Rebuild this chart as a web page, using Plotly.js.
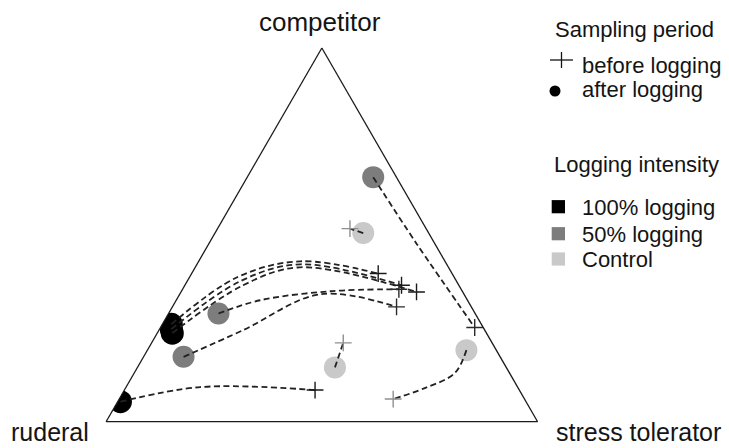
<!DOCTYPE html>
<html>
<head>
<meta charset="utf-8">
<script src="https://cdn.plot.ly/plotly-3.0.1.min.js"></script>
<style>
  html, body { margin: 0; padding: 0; background: #ffffff; }
  #chart { width: 729px; height: 448px; }
</style>
</head>
<body>
<div id="chart"></div>
<script>
// CSR strategy composition of each plot: competitor (C), ruderal (R), stress tolerator (S)
const siteIntensity = ['100%', '100%', '100%', '100%', '50%', '50%', '50%', 'Control', 'Control', 'Control'];

// after logging
const afterCompetitor = [0.0534, 0.2610, 0.2370, 0.2476, 0.2895, 0.1736, 0.6544, 0.5048, 0.1453, 0.1915];
const afterRuderal    = [0.9400, 0.7184, 0.7281, 0.7251, 0.5948, 0.7337, 0.0538, 0.1517, 0.3970, 0.0692];
const afterStress     = [0.0066, 0.0206, 0.0349, 0.0273, 0.1157, 0.0927, 0.2918, 0.3435, 0.4577, 0.7393];

// before logging
const beforeCompetitor = [0.0847, 0.3964, 0.3472, 0.3651, 0.3544, 0.3072, 0.2521, 0.5166, 0.2110, 0.0606];
const beforeRuderal    = [0.4734, 0.1712, 0.1070, 0.1328, 0.1443, 0.1733, 0.0197, 0.1766, 0.3449, 0.3044];
const beforeStress     = [0.4419, 0.4324, 0.5458, 0.5021, 0.5013, 0.5195, 0.7282, 0.3068, 0.4441, 0.6350];

// intermediate points along each trajectory (after -> before)
const pathCompetitor = [[0.0927], [0.3865, 0.4292], [0.3651, 0.4132], [0.3758, 0.4212], [0.3250, 0.3491], [0.2449, 0.3411], [0.4765], [], [], [0.1301, 0.0900]];
const pathRuderal    = [[0.7355], [0.5030, 0.3359], [0.4999, 0.3439], [0.5014, 0.3399], [0.4806, 0.3065], [0.5600, 0.3337], [0.0423], [], [], [0.1269, 0.2164]];
const pathStress     = [[0.1718], [0.1105, 0.2349], [0.1350, 0.2429], [0.1228, 0.2389], [0.1944, 0.3444], [0.1951, 0.3252], [0.4812], [], [], [0.7430, 0.6936]];

const intensityLevels = ['100%', '50%', 'Control'];
const intensityLabels = ['100% logging', '50% logging', 'Control'];
const intensityColors = ['#000000', '#7d7d7d', '#c9c9c9'];
const crossColors     = ['#1a1a1a', '#2a2a2a', '#8f8f8f'];

const W = 729, H = 448;
const px = x => x / W;
const py = y => 1 - y / H;
const FONT = 'Liberation Sans, Arial, Helvetica, sans-serif';

const traces = [];

// after-logging circles, one trace per intensity level
intensityLevels.forEach((lvl, k) => {
  const idx = siteIntensity.map((s, i) => s === lvl ? i : -1).filter(i => i >= 0);
  traces.push({
    type: 'scatterternary', mode: 'markers', hoverinfo: 'skip',
    a: idx.map(i => afterCompetitor[i]),
    b: idx.map(i => afterRuderal[i]),
    c: idx.map(i => afterStress[i]),
    marker: { symbol: 'circle', size: lvl === '100%' ? 23 : 22, color: intensityColors[k], line: { width: 0 } }
  });
});

// dashed trajectories
siteIntensity.forEach((lvl, i) => {
  traces.push({
    type: 'scatterternary', mode: 'lines', hoverinfo: 'skip',
    a: [afterCompetitor[i], ...pathCompetitor[i], beforeCompetitor[i]],
    b: [afterRuderal[i], ...pathRuderal[i], beforeRuderal[i]],
    c: [afterStress[i], ...pathStress[i], beforeStress[i]],
    line: { color: '#222222', width: 1.8, dash: '6px,3.5px', shape: 'spline', smoothing: 1 }
  });
});

// before-logging crosses
intensityLevels.forEach((lvl, k) => {
  const idx = siteIntensity.map((s, i) => s === lvl ? i : -1).filter(i => i >= 0);
  traces.push({
    type: 'scatterternary', mode: 'markers', hoverinfo: 'skip',
    a: idx.map(i => beforeCompetitor[i]),
    b: idx.map(i => beforeRuderal[i]),
    c: idx.map(i => beforeStress[i]),
    marker: { symbol: 'cross-thin', size: 12, color: crossColors[k], line: { width: 1.4, color: crossColors[k] } }
  });
});

const axisStyle = {
  showgrid: false, showticklabels: false, ticks: '', showline: true,
  linecolor: '#1a1a1a', linewidth: 1.3, min: 0, title: { text: '' }
};

const annotations = [
  { text: 'competitor', x: px(320), y: py(22), font: { size: 26 } },
  { text: 'ruderal', x: px(50), y: py(432), font: { size: 25 } },
  { text: 'stress tolerator', x: px(638), y: py(432), font: { size: 25 } },
  { text: 'Sampling period', x: px(553), y: py(29), xanchor: 'left', font: { size: 22 } },
  { text: 'before logging', x: px(580), y: py(65), xanchor: 'left', font: { size: 22 } },
  { text: 'after logging', x: px(580), y: py(89), xanchor: 'left', font: { size: 22 } },
  { text: 'Logging intensity', x: px(552), y: py(164), xanchor: 'left', font: { size: 22 } }
].map(a => Object.assign({
  xref: 'paper', yref: 'paper', showarrow: false, xanchor: 'center', yanchor: 'middle'
}, a, { font: Object.assign({ family: FONT, color: '#141414' }, a.font) }));

const shapes = [
  // legend cross and dot
  { type: 'line', x0: px(550), x1: px(573), y0: py(60), y1: py(60), line: { color: '#141414', width: 1.3 } },
  { type: 'line', x0: px(561.5), x1: px(561.5), y0: py(52), y1: py(68), line: { color: '#141414', width: 1.3 } },
  { type: 'circle', x0: px(549.5), x1: px(560.5), y0: py(85.5), y1: py(96.5), fillcolor: '#000000', line: { width: 0 } }
];

const squareRows = [206.7, 233.7, 259];
intensityLabels.forEach((lab, k) => {
  const yc = squareRows[k];
  shapes.push({
    type: 'rect', x0: px(551.7), x1: px(565), y0: py(yc + 6.6), y1: py(yc - 6.6),
    fillcolor: intensityColors[k], line: { width: 0 }
  });
  annotations.push({
    xref: 'paper', yref: 'paper', showarrow: false, xanchor: 'left', yanchor: 'middle',
    text: lab, x: px(580), y: py(yc + 0.5), font: { family: FONT, size: 22, color: '#141414' }
  });
});

const layout = {
  width: W, height: H,
  margin: { l: 0, r: 0, t: 0, b: 0 },
  paper_bgcolor: '#ffffff',
  showlegend: false,
  ternary: {
    sum: 1,
    domain: { x: [105.7 / W, 538 / W], y: [(H - 421.7) / H, (H - 48) / H] },
    bgcolor: '#ffffff',
    aaxis: axisStyle, baxis: axisStyle, caxis: axisStyle
  },
  annotations: annotations,
  shapes: shapes
};

Plotly.newPlot('chart', traces, layout, { staticPlot: true, displayModeBar: false });
</script>
</body>
</html>
